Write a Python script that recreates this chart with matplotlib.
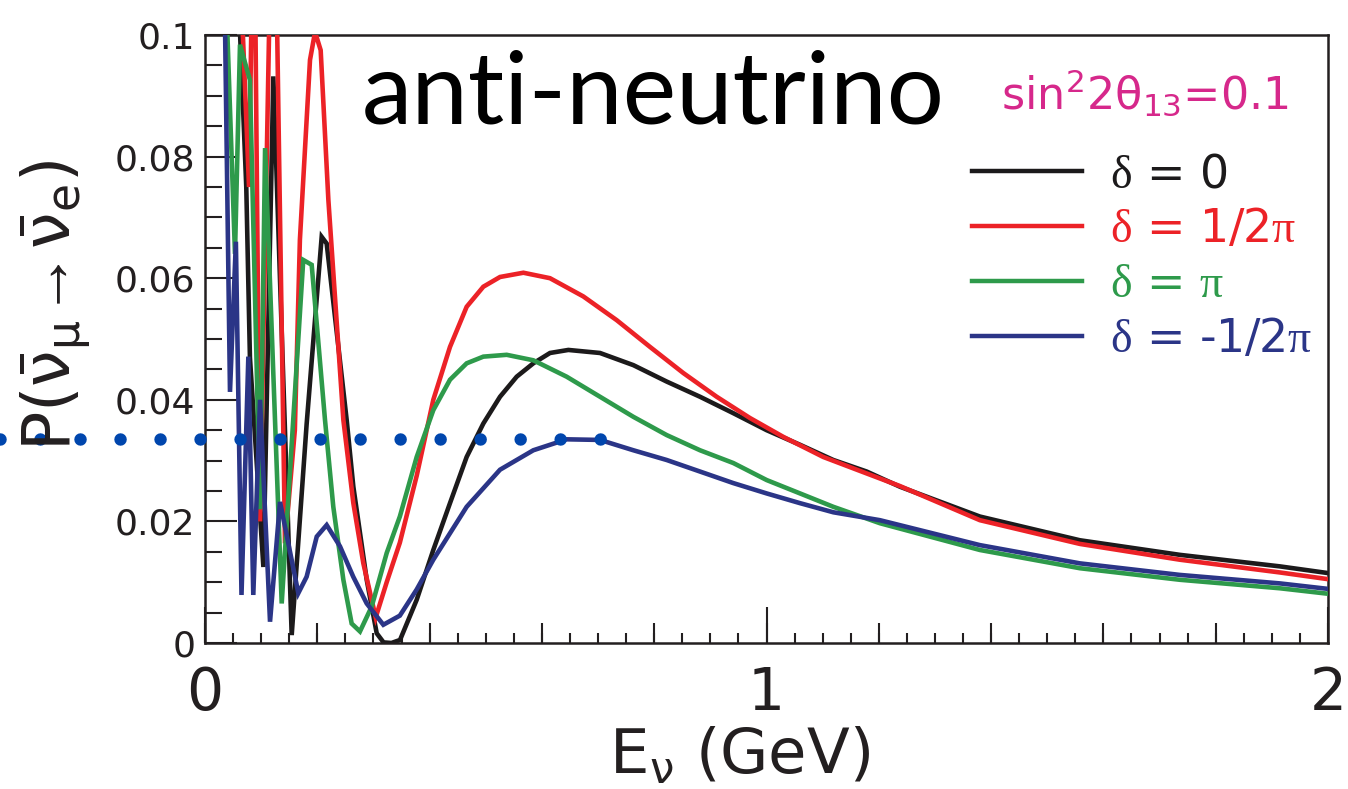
import numpy as np
import matplotlib
matplotlib.use("Agg")
import matplotlib.pyplot as plt
from matplotlib.ticker import MultipleLocator, FixedLocator

plt.rcParams['mathtext.fontset'] = 'custom'
plt.rcParams['mathtext.rm'] = 'Liberation Serif'
plt.rcParams['mathtext.sf'] = 'DejaVu Sans'
plt.rcParams['mathtext.it'] = 'DejaVu Sans:italic'

# ---------------- data ----------------
E_black = [0.045, 0.0735, 0.080, 0.104, 0.1217, 0.1544, 0.181, 0.2078, 0.2167, 0.2523,
           0.2642, 0.288, 0.3058, 0.318, 0.332, 0.3473, 0.377, 0.4066, 0.4363, 0.466,
           0.4957, 0.5254, 0.5551, 0.5847, 0.6144, 0.6471, 0.7035, 0.7629, 0.8222, 0.8816,
           0.9409, 1.0003, 1.0597, 1.119, 1.1784, 1.2378, 1.38, 1.558, 1.736, 1.9145, 2.0]
P_black = [0.14, 0.075, 0.047, 0.0125, 0.0932, 0.0013, 0.036, 0.0668, 0.0657, 0.0367,
           0.0257, 0.0104, 0.0016, 0.0001, 0.0, 0.0005, 0.0071, 0.0153, 0.0230, 0.0306,
           0.0361, 0.0405, 0.0438, 0.0460, 0.0477, 0.0482, 0.0477, 0.0457, 0.0430, 0.0405,
           0.0378, 0.0350, 0.0326, 0.0301, 0.0282, 0.0257, 0.0208, 0.0169, 0.0145, 0.0126, 0.0115]

E_red = [0.050, 0.0784, 0.087, 0.098, 0.122, 0.1425, 0.160, 0.169, 0.187, 0.196, 0.206,
         0.2197, 0.2464, 0.2642, 0.282, 0.304, 0.3236, 0.347, 0.377, 0.4066, 0.4363, 0.466,
         0.4957, 0.5254, 0.567, 0.6144, 0.6738, 0.7332, 0.7925, 0.8519, 0.9113, 0.9706,
         1.030, 1.101, 1.178, 1.238, 1.38, 1.558, 1.736, 1.9145, 2.0]
P_red = [0.14, 0.075, 0.13, 0.02, 0.14, 0.0164, 0.035, 0.0663, 0.0959, 0.1005, 0.0975,
         0.0729, 0.0367, 0.023, 0.0131, 0.0042, 0.0100, 0.0165, 0.0275, 0.0400, 0.0487, 0.0553,
         0.0586, 0.0602, 0.0609, 0.0600, 0.0570, 0.0531, 0.0487, 0.0444, 0.0405, 0.0370,
         0.0339, 0.0306, 0.0279, 0.0258, 0.0202, 0.0163, 0.0137, 0.0116, 0.0105]

E_green = [0.025, 0.0534, 0.0623, 0.080, 0.098, 0.107, 0.1366, 0.175, 0.190, 0.2137, 0.2285,
           0.2464, 0.2612, 0.276, 0.2969, 0.3236, 0.347, 0.377, 0.4066, 0.4363, 0.466, 0.4957,
           0.5373, 0.5847, 0.6441, 0.7035, 0.7629, 0.8222, 0.8816, 0.9409, 1.0003, 1.0597,
           1.119, 1.202, 1.38, 1.558, 1.736, 1.9145, 2.0]
P_green = [0.14, 0.064, 0.0984, 0.0926, 0.022, 0.0814, 0.0065, 0.063, 0.0622, 0.0367, 0.0224,
           0.0104, 0.0032, 0.0019, 0.006, 0.0148, 0.0208, 0.0306, 0.0383, 0.0433, 0.0460, 0.0471,
           0.0474, 0.0465, 0.0438, 0.0405, 0.0372, 0.0342, 0.0317, 0.0296, 0.0268, 0.0246,
           0.0224, 0.0197, 0.0153, 0.0123, 0.0104, 0.0090, 0.0081]

E_blue = [0.030, 0.0445, 0.055, 0.065, 0.0772, 0.086, 0.098, 0.1158, 0.1336, 0.1662, 0.181,
          0.199, 0.2167, 0.2404, 0.264, 0.288, 0.3176, 0.347, 0.377, 0.4066, 0.466, 0.5254,
          0.5847, 0.6441, 0.7035, 0.7629, 0.8222, 0.8816, 0.9409, 1.0003, 1.0597, 1.119,
          1.202, 1.38, 1.558, 1.736, 1.9145, 2.0]
P_blue = [0.14, 0.0413, 0.066, 0.0079, 0.0471, 0.0079, 0.040, 0.0035, 0.0232, 0.0082, 0.0109,
          0.0175, 0.0194, 0.0159, 0.0109, 0.0065, 0.0030, 0.0045, 0.0088, 0.0137, 0.0224, 0.0285,
          0.0317, 0.0335, 0.0334, 0.0317, 0.0301, 0.0282, 0.0263, 0.0246, 0.0230, 0.0215,
          0.0202, 0.0161, 0.0131, 0.0112, 0.0098, 0.0089]

labels = [r'$\mathrm{\delta}$ = 0', r'$\mathrm{\delta}$ = 1/2$\mathrm{\pi}$',
          r'$\mathrm{\delta}$ = $\mathrm{\pi}$', r'$\mathrm{\delta}$ = -1/2$\mathrm{\pi}$']
colors = ['#1c1a1b', '#ec2227', '#2e9a4b', '#2b3587']

level_P = 0.0335
level_E = [-0.365, 0.7053]

x_ticks = [0, 1, 2]
x_ticklabels = ['0', '1', '2']
y_ticks = [0, 0.02, 0.04, 0.06, 0.08, 0.1]
y_ticklabels = ['0', '0.02', '0.04', '0.06', '0.08', '0.1']

# ---------------- figure ----------------
W, H = 1348, 789
fig = plt.figure(figsize=(W / 100, H / 100), dpi=100)
ax = fig.add_axes([205 / W, (H - 643) / H, 1123 / W, 608 / H])
ax.set_xlim(0, 2)
ax.set_ylim(0, 0.1)

lw = 3.3
series = [(E_black, P_black), (E_red, P_red), (E_green, P_green), (E_blue, P_blue)]
handles = []
for i, ((e, p), c, lab) in enumerate(zip(series, colors, labels)):
    h, = ax.plot(e, p, color=c, lw=lw, label=lab, zorder=2 + i, solid_joinstyle='miter')
    handles.append(h)

# dotted reference level
ax.plot(level_E, [level_P, level_P], color='#0046ad', lw=9,
        linestyle=(0, (0.001, 40 / 12.5)), dash_capstyle='round', clip_on=False, zorder=10)

# ticks
ink = '#231f20'
for s in ax.spines.values():
    s.set_color(ink)
    s.set_linewidth(1.8)
ax.xaxis.set_major_locator(FixedLocator(x_ticks))
ax.set_xticklabels(x_ticklabels)
ax.xaxis.set_minor_locator(MultipleLocator(0.05))
ax.yaxis.set_major_locator(FixedLocator(y_ticks))
ax.set_yticklabels(y_ticklabels)
ax.yaxis.set_minor_locator(MultipleLocator(0.005))
ax.tick_params(axis='x', which='major', direction='in', length=26, width=1.5, color=ink,
               labelsize=42, pad=16, top=False)
ax.tick_params(axis='x', which='minor', direction='in', length=7.5, width=1.5, color=ink, top=False)
ax.tick_params(axis='y', which='major', direction='in', length=23, width=1.5, color=ink,
               labelsize=26, pad=7, right=False)
ax.tick_params(axis='y', which='minor', direction='in', length=12, width=1.5, color=ink, right=False)
for t in ax.get_xticklabels() + ax.get_yticklabels():
    t.set_fontfamily('DejaVu Sans')
    t.set_color(ink)

sec = ax.secondary_xaxis('bottom')
sec.xaxis.set_major_locator(MultipleLocator(0.2))
sec.tick_params(direction='in', length=14.5, width=1.5, color=ink, labelbottom=False)
sec.spines['bottom'].set_visible(False)

# labels
fig.text(740 / W, 1 - 787 / H, r'E$_{\mathsf{\nu}}$ (GeV)', fontsize=45, family='DejaVu Sans',
         ha='center', va='bottom', color=ink)
fig.text(56 / W, 1 - 305 / H,
         r'P($\bar{\mathsf{\nu}}_{\mathsf{\mu}}\!\rightarrow\!\bar{\mathsf{\nu}}_{\mathsf{e}}$)',
         fontsize=47, family='DejaVu Sans', rotation=90, ha='center', va='center', color=ink)

ax.text((362 - 205) / 1123, (643 - 123) / 608, 'anti-neutrino', transform=ax.transAxes,
        fontsize=73, family='Lato', color='black', ha='left', va='baseline')
ax.text((1145 - 205) / 1123, (643 - 110) / 608,
        r'sin$^{\mathsf{2}}$2$\mathsf{\theta}_{\mathsf{13}}$=0.1', transform=ax.transAxes,
        fontsize=32, family='DejaVu Sans', color='#d6288b', ha='center', va='baseline')

leg = ax.legend(handles=handles, loc='upper left',
                bbox_to_anchor=((972 - 205) / 1123, (643 - 152) / 608),
                frameon=False, prop={'family': 'DejaVu Sans', 'size': 33},
                labelcolor='linecolor', handlelength=2.4, handletextpad=0.6,
                labelspacing=0.22, borderpad=0, borderaxespad=0)
for lh in leg.get_lines():
    lh.set_linewidth(3.2)

fig.savefig('out.png', dpi=100)
